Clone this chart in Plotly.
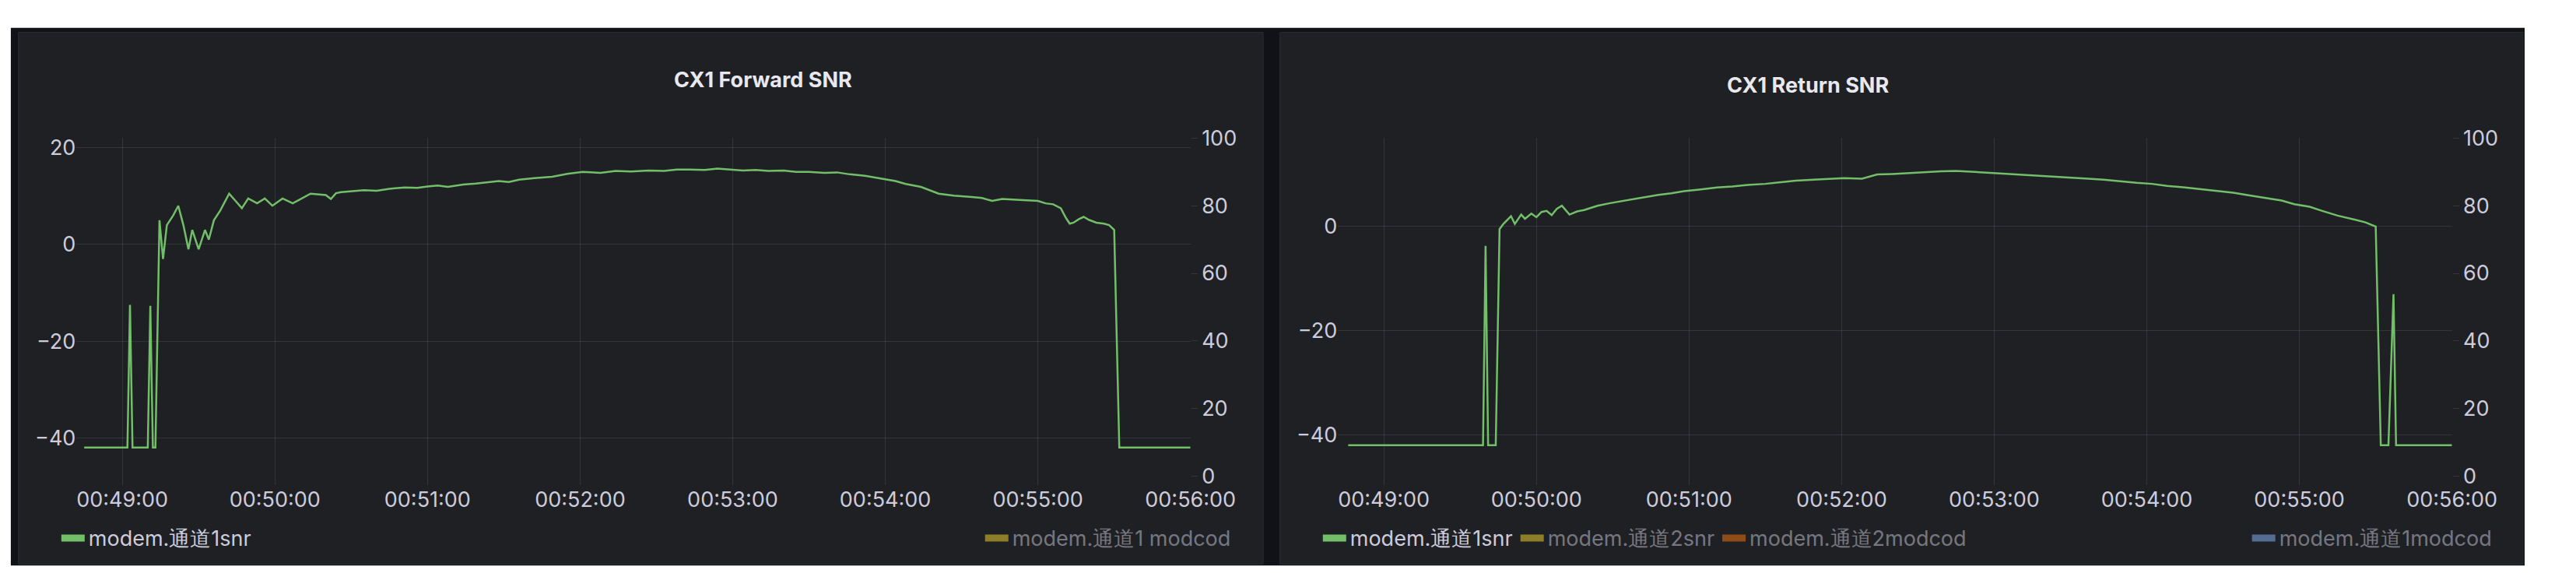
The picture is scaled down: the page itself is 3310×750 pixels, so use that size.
import plotly.graph_objects as go
import pandas as pd

# seconds relative to 00:49:00
fwd_t = [-15, 2, 3, 4, 10, 11, 12, 13, 14.6, 16, 17.5, 20, 22, 24, 26, 27.5, 30, 32.5, 34, 36, 38.5, 42, 44.5, 47, 49.5, 53, 56, 59, 63, 67, 74, 80, 82, 84, 86,
         90, 95, 100, 105, 111, 116, 120, 124, 128, 134, 139, 143, 148, 152, 156, 162, 169, 175, 181, 188, 194, 200, 207, 213, 218, 223, 229, 234, 238, 244, 249, 254,
         260, 265, 270, 276, 281, 286, 292, 299, 304, 308, 314, 321, 327, 334, 338, 342, 346, 350, 355, 360, 363, 366, 369, 371, 372.5, 374, 376, 378, 380, 383, 386, 388, 390, 392, 420]
fwd_v = [-42, -42, -12.5, -42, -42, -12.7, -42, -42, 5, -3, 4, 6, 8, 4, -1, 3, -1, 3, 1, 5, 7, 10.5, 9, 7.5, 9.5, 8.5, 9.5, 8, 9.5, 8.5, 10.5, 10.2, 9.4, 10.6, 10.8,
         11.0, 11.2, 11.1, 11.5, 11.8, 11.7, 12.0, 12.2, 11.9, 12.4, 12.6, 12.8, 13.1, 12.9, 13.4, 13.7, 14.0, 14.6, 15.0, 14.8, 15.2, 15.1, 15.3, 15.2, 15.5, 15.5, 15.4, 15.7, 15.5, 15.3, 15.4, 15.2,
         15.3, 15.0, 15.0, 14.8, 14.9, 14.5, 14.2, 13.5, 13.1, 12.5, 11.9, 10.5, 10.1, 9.8, 9.6, 9.0, 9.4, 9.3, 9.1, 9.0, 8.5, 8.3, 7.5, 5.5, 4.3, 4.5, 5.2, 5.7, 5.1, 4.5, 4.3, 4.0, 3.0, -42, -42]

ret_t = [-14, 39, 40, 41, 44, 45.5, 47, 48, 50, 51.5, 54, 55.5, 58, 60, 62, 64, 66, 68, 70, 73, 76, 79, 84, 89, 95, 102, 108, 113, 118, 124, 131, 137, 143, 150, 156, 162, 169,
         175, 181, 188, 194, 200, 207, 213, 219, 225, 232, 238, 245, 251, 258, 264, 270, 277, 283, 289, 296, 302, 308, 315, 321, 328, 334, 340, 347, 353, 358, 364, 369, 375, 382, 386, 390, 392, 395, 397, 398, 420]
ret_v = [-42, -42, -3.7, -42, -42, -0.5, 0.5, 1, 2, 0.5, 2.3, 1.5, 2.5, 1.8, 2.8, 3, 2.2, 3.4, 4, 2.3, 2.9, 3.2, 4.0, 4.5, 5.0, 5.5, 6.1, 6.4, 6.8, 7.1, 7.5, 7.7, 8.0, 8.2, 8.5, 8.8, 9.0,
         9.1, 9.3, 9.2, 10.0, 10.1, 10.3, 10.4, 10.6, 10.7, 10.5, 10.4, 10.2, 10.0, 9.8, 9.6, 9.5, 9.2, 9.0, 8.7, 8.4, 8.2, 7.8, 7.5, 7.2, 6.8, 6.5, 6.0, 5.5, 5.0, 4.3, 3.8, 3.0, 2.1, 1.3, 0.8, 0, -42, -42, -13, -42, -42]

x_ticks = ["00:49:00", "00:50:00", "00:51:00", "00:52:00", "00:53:00", "00:54:00", "00:55:00", "00:56:00"]
left_ticks = [-40, -20, 0, 20]
right_ticks = [0, 20, 40, 60, 80, 100]

base = pd.Timestamp("2024-01-01 00:49:00")
def tt(s):
    return [base + pd.Timedelta(seconds=x) for x in s]
tickvals = [pd.Timestamp("2024-01-01 " + t) for t in x_ticks]

GREEN = "#73bf69"
TXT = "#ccccdc"
GRID = "rgba(204,204,220,0.12)"
F = "Inter"

fig = go.Figure()
def legend_item(name, color, xa, ya, leg, vis=True):
    fig.add_trace(go.Scatter(x=[None], y=[None], mode="lines", line=dict(color=color, width=9), name=name,
                             xaxis=xa, yaxis=ya, legend=leg, visible=True if vis else "legendonly"))

fig.add_trace(go.Scatter(x=tt(fwd_t), y=fwd_v, mode="lines", line=dict(color=GREEN, width=2.5),
                         showlegend=False, xaxis="x", yaxis="y"))
legend_item("modem.通道1snr", GREEN, "x", "y", "legend")
legend_item("modem.通道1 modcod", "#fade2a", "x", "y2", "legend2", False)
fig.add_trace(go.Scatter(x=tt(ret_t), y=ret_v, mode="lines", line=dict(color=GREEN, width=2.5),
                         showlegend=False, xaxis="x2", yaxis="y3"))
legend_item("modem.通道1snr", GREEN, "x2", "y3", "legend3")
legend_item("modem.通道2snr", "#fade2a", "x2", "y4", "legend3", False)
legend_item("modem.通道2modcod", "#ff780a", "x2", "y4", "legend3", False)
legend_item("modem.通道1modcod", "#8ab8ff", "x2", "y4", "legend4", False)

O = 8  # page body margin
W, H = 3310 - 2 * O, 750 - 2 * O
def px(v): return (v - O) / W
def py(v): return 1 - (v - O) / H

yd = [py(624), py(165)]
xrng = [base - pd.Timedelta(seconds=18), base + pd.Timedelta(seconds=420)]
xcommon = dict(type="date", range=xrng, tickvals=tickvals, ticktext=x_ticks, showgrid=True, gridcolor=GRID,
               tickfont=dict(color=TXT, size=27, family=F), ticks="", zeroline=False, showline=False)
ycommon = dict(tickfont=dict(color=TXT, size=27, family=F), zeroline=False, showline=False)

legfont = dict(color=TXT, size=27, family=F)
lc = dict(bgcolor="rgba(0,0,0,0)", orientation="h", yanchor="middle", y=py(695), font=legfont,
          itemwidth=30, tracegroupgap=0)

fig.update_layout(
    width=W, height=H, margin=dict(l=0, r=0, t=0, b=0),
    paper_bgcolor="white", plot_bgcolor="rgba(0,0,0,0)", showlegend=True,
    xaxis=dict(domain=[px(100), px(1557)], anchor="y", **xcommon),
    xaxis2=dict(domain=[px(1750), px(3207)], anchor="y3", **xcommon),
    yaxis=dict(domain=yd, range=[-49.7, 22], tickvals=left_ticks, showgrid=True, gridcolor=GRID, anchor="x", **ycommon),
    yaxis2=dict(domain=yd, range=[-2.5, 100], tickvals=right_ticks, overlaying="y", side="right", anchor="x",
                showgrid=False, ticks="outside", ticklen=8, tickcolor=GRID, **ycommon),
    yaxis3=dict(domain=yd, range=[-49.6, 17], tickvals=left_ticks, showgrid=True, gridcolor=GRID, anchor="x2", **ycommon),
    yaxis4=dict(domain=yd, range=[-2.5, 100], tickvals=right_ticks, overlaying="y3", side="right", anchor="x2",
                showgrid=False, ticks="outside", ticklen=8, tickcolor=GRID, **ycommon),
    legend=dict(x=px(75), xanchor="left", **lc),
    legend2=dict(x=px(1615), xanchor="right", **lc),
    legend3=dict(x=px(1725), xanchor="left", **lc),
    legend4=dict(x=px(3265), xanchor="right", **lc),
    shapes=[
        dict(type="rect", xref="paper", yref="paper", x0=px(14), x1=1, y0=py(731), y1=py(19),
             fillcolor="#111217", line=dict(width=0), layer="below"),
        dict(type="rect", xref="paper", yref="paper", x0=px(24), x1=px(1652), y0=py(729), y1=py(25),
             fillcolor="#1f2024", line=dict(color="#2a2c31", width=1), layer="below"),
        dict(type="rect", xref="paper", yref="paper", x0=px(1674), x1=px(3300), y0=py(729), y1=py(25),
             fillcolor="#1f2024", line=dict(color="#2a2c31", width=1), layer="below"),
    ],
    annotations=[
        dict(text="<b>CX1 Forward SNR</b>", x=px(879), y=py(69), xref="paper", yref="paper", showarrow=False,
             font=dict(color="#e8e8ee", size=27, family=F)),
        dict(text="<b>CX1 Return SNR</b>", x=px(2472), y=py(76), xref="paper", yref="paper", showarrow=False,
             font=dict(color="#e8e8ee", size=27, family=F)),
    ],
)
fig.write_html("out.html")
